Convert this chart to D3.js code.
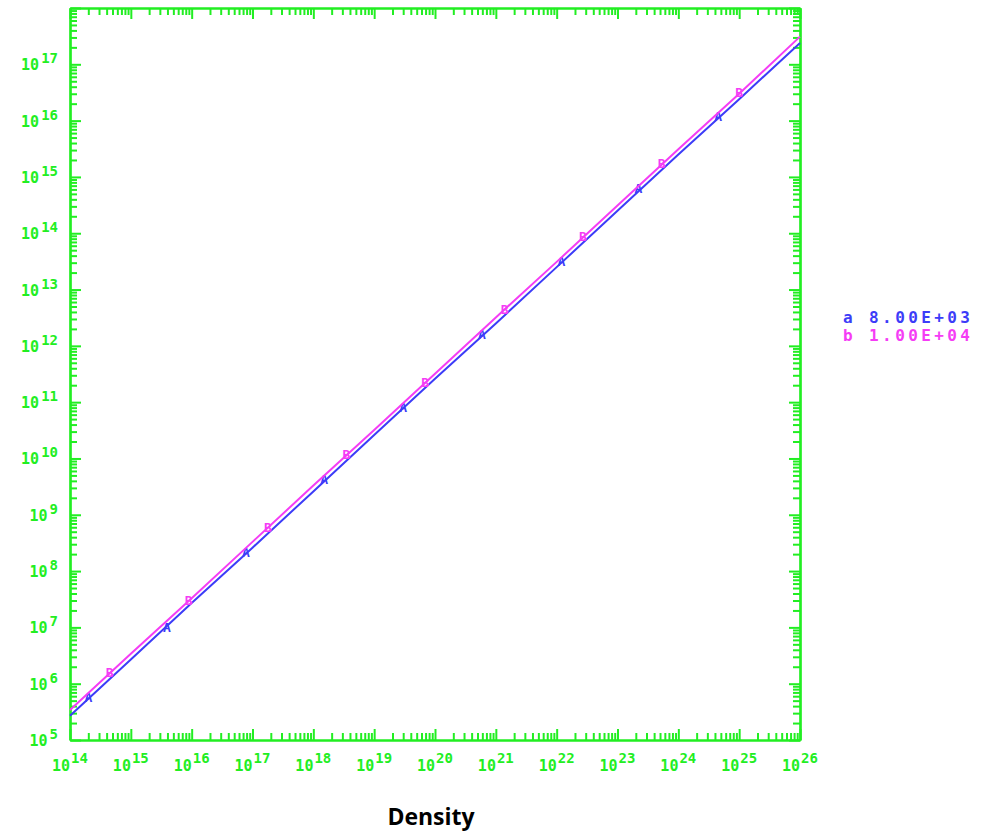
<!DOCTYPE html>
<html>
<head>
<meta charset="utf-8">
<script src="https://cdn.jsdelivr.net/npm/d3@7"></script>
<style>
 body { margin: 0; background: #fff; }
 .mono { font-family: "DejaVu Sans Mono", "Liberation Mono", monospace; font-weight: bold; }
</style>
</head>
<body>
<div id="chart"></div>
<script>
 // line data, read at each decade of density
 var density = [1e14, 1e15, 1e16, 1e17, 1e18, 1e19, 1e20, 1e21, 1e22, 1e23, 1e24, 1e25, 1e26];
 var seriesA = [2.7e5, 2.7e6, 2.7e7, 2.6e8, 2.6e9, 2.6e10, 2.6e11, 2.5e12, 2.5e13, 2.5e14, 2.5e15, 2.4e16, 2.4e17];
 var seriesB = [3.4e5, 3.4e6, 3.3e7, 3.3e8, 3.3e9, 3.2e10, 3.2e11, 3.2e12, 3.1e13, 3.1e14, 3.1e15, 3.0e16, 3.1e17];

 // letter markers along each line
 var markerXA = [2.0e14, 3.9e15, 7.8e16, 1.5e18, 3.0e19, 5.9e20, 1.2e22, 2.2e23, 4.5e24];
 var markerYA = [5.6e5, 1.0e7, 2.1e8, 4.2e9, 8.2e10, 1.6e12, 3.1e13, 6.3e14, 1.2e16];
 var markerXB = [4.5e14, 8.9e15, 1.8e17, 3.5e18, 6.9e19, 1.4e21, 2.7e22, 5.3e23, 1.0e25];
 var markerYB = [1.6e6, 3.0e7, 5.9e8, 1.2e10, 2.2e11, 4.4e12, 8.6e13, 1.7e15, 3.2e16];

 var seriesNames = ["a", "b"];
 var legendLabels = ["a 8.00E+03", "b 1.00E+04"];
 var xExponents = [14, 15, 16, 17, 18, 19, 20, 21, 22, 23, 24, 25, 26];
 var yExponents = [5, 6, 7, 8, 9, 10, 11, 12, 13, 14, 15, 16, 17];
 var xTitle = "Density";

 var props = { width: 981, height: 834, left: 70, right: 800, top: 8, bottom: 740 };
 var green = "#22ee22", blue = "#3c3cf8", magenta = "#f53cf5";

 var svg = d3.select("#chart").append("svg")
   .attr("width", props.width).attr("height", props.height);

 var x = d3.scaleLog().domain([1e14, 1e26]).range([props.left, props.right]);
 var y = d3.scaleLog().domain([1e5, 1e18]).range([props.bottom, props.top]);

 function minorTicks(lo, hi){
   var out = [];
   for(var e = lo; e < hi; e++){
     for(var m = 2; m <= 9; m++) out.push(m * Math.pow(10, e));
   }
   return out;
 }
 var xMajor = d3.range(14, 27).map(function(e){ return Math.pow(10, e); });
 var yMajor = d3.range(5, 19).map(function(e){ return Math.pow(10, e); });
 var xMinor = minorTicks(14, 26);
 var yMinor = minorTicks(5, 18);

 function drawAxis(axisFn, scale, transform, majors, minors){
   var gMin = svg.append("g").attr("transform", transform)
     .call(axisFn(scale).tickValues(minors).tickSize(-7).tickSizeOuter(0).tickFormat(""));
   var gMaj = svg.append("g").attr("transform", transform)
     .call(axisFn(scale).tickValues(majors).tickSize(-11).tickSizeOuter(0).tickFormat(""));
   [gMin, gMaj].forEach(function(g){
     g.select(".domain").style("stroke", green).style("stroke-width", 2.2);
     g.selectAll(".tick line").style("stroke", green).style("stroke-width", 2);
     g.selectAll(".tick text").remove();
   });
   return gMaj;
 }

 drawAxis(d3.axisBottom, x, "translate(0," + props.bottom + ")", xMajor, xMinor);
 drawAxis(d3.axisTop, x, "translate(0," + props.top + ")", xMajor, xMinor);
 drawAxis(d3.axisLeft, y, "translate(" + props.left + ",0)", yMajor, yMinor);
 drawAxis(d3.axisRight, y, "translate(" + props.right + ",0)", yMajor, yMinor);

 // x tick labels 10^n
 svg.append("g").selectAll("text")
   .data(xExponents)
   .enter()
   .append("text")
   .attr("class", "mono")
   .attr("x", function(d){ return x(Math.pow(10, d)); })
   .attr("y", 771)
   .attr("text-anchor", "middle")
   .style("fill", green)
   .style("font-size", "15px")
   .each(function(d){
     var t = d3.select(this);
     t.append("tspan").text("10");
     t.append("tspan").attr("dy", -8).attr("dx", 1).style("font-size", "14px").text(d);
   });

 // y tick labels 10^n
 svg.append("g").selectAll("text")
   .data(yExponents)
   .enter()
   .append("text")
   .attr("class", "mono")
   .attr("x", 58)
   .attr("y", function(d){ return y(Math.pow(10, d)) + 6; })
   .attr("text-anchor", "end")
   .style("fill", green)
   .style("font-size", "15px")
   .each(function(d){
     var t = d3.select(this);
     t.append("tspan").text("10");
     t.append("tspan").attr("dy", -7).attr("dx", 2).style("font-size", "14px").text(d);
   });

 var line = d3.line()
   .x(function(d){ return x(d[0]); })
   .y(function(d){ return y(d[1]); });

 var series = [
   { name: seriesNames[0], color: blue, values: d3.zip(density, seriesA), mx: markerXA, my: markerYA, glyph: "A" },
   { name: seriesNames[1], color: magenta, values: d3.zip(density, seriesB), mx: markerXB, my: markerYB, glyph: "B" }
 ];

 series.forEach(function(s){
   svg.append("path")
     .datum(s.values)
     .attr("d", line)
     .style("fill", "none")
     .style("stroke", s.color)
     .style("stroke-width", 2);

   svg.append("g").selectAll("text")
     .data(d3.zip(s.mx, s.my))
     .enter()
     .append("text")
     .attr("class", "mono")
     .attr("x", function(d){ return x(d[0]); })
     .attr("y", function(d){ return y(d[1]); })
     .attr("dy", "0.35em")
     .attr("text-anchor", "middle")
     .style("fill", s.color)
     .style("font-size", "13px")
     .text(s.glyph);
 });

 // legend
 svg.append("g").selectAll("text")
   .data(legendLabels)
   .enter()
   .append("text")
   .attr("class", "mono")
   .attr("x", 843)
   .attr("y", function(d, i){ return 323 + i * 18; })
   .style("fill", function(d, i){ return series[i].color; })
   .style("font-size", "16px")
   .style("letter-spacing", "3.4px")
   .text(function(d){ return d; });

 svg.append("text")
   .attr("x", 431)
   .attr("y", 825)
   .attr("text-anchor", "middle")
   .style("font-family", "'Open Sans', 'Noto Sans', sans-serif")
   .style("font-weight", "bold")
   .style("font-size", "23px")
   .style("fill", "#000")
   .text(xTitle);
</script>
</body>
</html>
